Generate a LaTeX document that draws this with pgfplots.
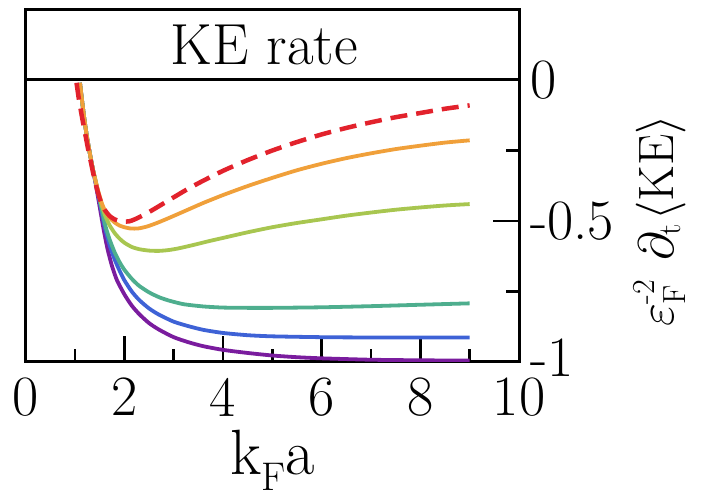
\documentclass[border=0pt]{standalone}
\usepackage{pgfplots}
\pgfplotsset{compat=1.18}
\definecolor{cred}{HTML}{E2222C}
\definecolor{corange}{HTML}{F0A03A}
\definecolor{cyg}{HTML}{A8C650}
\definecolor{cteal}{HTML}{4EAE8E}
\definecolor{cblue}{HTML}{3E62D6}
\definecolor{cpurple}{HTML}{7A1C9E}
\begin{document}
\begin{tikzpicture}
\path (-25.7pt,-138pt) rectangle (681.3pt,362pt);
\begin{axis}[
  name=ax, at={(0pt,0pt)}, anchor=south west,
  scale only axis, width=493.3pt, height=282pt,
  xmin=0, xmax=10, ymin=-1, ymax=0,
  axis line style={line width=3pt},
  every tick/.style={black, line width=2.5pt},
  xtick={0,2,4,6,8,10}, minor xtick={1,3,5,7,9},
  xticklabels={0,2,4,6,8,10},
  ytick={-1,-0.5,0}, minor ytick={-0.75,-0.25},
  yticklabels={\raisebox{9pt}{-1},-0.5,\raisebox{-5pt}{0}},
  xtick pos=left, ytick pos=right, yticklabel pos=right,
  tick align=inside,
  major tick length=26pt, minor tick length=13pt,
  xticklabel style={font=\rmfamily\fontsize{57}{57}\selectfont, inner sep=0pt, anchor=north, yshift=-16pt},
  yticklabel style={font=\rmfamily\fontsize{57}{57}\selectfont, inner sep=0pt, anchor=west, xshift=11pt},
  every axis plot/.append style={smooth, tension=0.4},
]
\addplot[cpurple, line width=3.8pt] coordinates {(1.1,-0.01)(1.14,-0.07)(1.19,-0.14)(1.24,-0.2)(1.3,-0.26)(1.36,-0.315)(1.42,-0.37)(1.5,-0.45)(1.58,-0.53)(1.66,-0.6)(1.75,-0.66)(1.85,-0.71)(2.0,-0.76)(2.15,-0.8)(2.3,-0.83)(2.5,-0.862)(2.7,-0.885)(3.0,-0.912)(3.3,-0.93)(3.6,-0.944)(4.0,-0.957)(4.5,-0.968)(5.0,-0.977)(5.5,-0.983)(6.0,-0.987)(7.0,-0.992)(8.0,-0.994)(9.0,-0.995)};
\addplot[cblue, line width=3.8pt] coordinates {(1.1,-0.01)(1.14,-0.07)(1.19,-0.14)(1.24,-0.2)(1.3,-0.26)(1.36,-0.315)(1.42,-0.365)(1.52,-0.45)(1.6,-0.52)(1.7,-0.585)(1.8,-0.635)(1.9,-0.675)(2.0,-0.71)(2.15,-0.75)(2.3,-0.78)(2.5,-0.81)(2.7,-0.832)(3.0,-0.857)(3.3,-0.873)(3.6,-0.886)(4.0,-0.897)(4.5,-0.905)(5.0,-0.909)(6.0,-0.912)(7.0,-0.913)(9.0,-0.913)};
\addplot[cteal, line width=3.8pt] coordinates {(1.1,-0.01)(1.14,-0.07)(1.19,-0.14)(1.24,-0.2)(1.3,-0.26)(1.36,-0.315)(1.42,-0.36)(1.48,-0.41)(1.55,-0.465)(1.62,-0.52)(1.7,-0.565)(1.8,-0.61)(1.9,-0.645)(2.0,-0.673)(2.15,-0.705)(2.3,-0.73)(2.5,-0.753)(2.7,-0.77)(2.9,-0.782)(3.2,-0.795)(3.6,-0.803)(4.0,-0.807)(4.5,-0.808)(5.0,-0.808)(6.0,-0.806)(7.0,-0.802)(8.0,-0.797)(9.0,-0.792)};
\addplot[cyg, line width=3.8pt] coordinates {(1.1,-0.01)(1.14,-0.07)(1.19,-0.14)(1.24,-0.2)(1.3,-0.26)(1.36,-0.315)(1.42,-0.36)(1.48,-0.405)(1.55,-0.45)(1.62,-0.485)(1.7,-0.515)(1.8,-0.542)(1.9,-0.562)(2.0,-0.577)(2.15,-0.592)(2.3,-0.6)(2.5,-0.605)(2.7,-0.606)(2.9,-0.603)(3.1,-0.597)(3.4,-0.585)(3.7,-0.572)(4.0,-0.56)(4.5,-0.54)(5.0,-0.522)(5.5,-0.507)(6.0,-0.494)(6.5,-0.481)(7.0,-0.47)(7.5,-0.46)(8.0,-0.452)(8.5,-0.445)(9.0,-0.44)};
\addplot[corange, line width=3.8pt] coordinates {(1.1,-0.01)(1.14,-0.07)(1.19,-0.14)(1.24,-0.2)(1.3,-0.26)(1.36,-0.315)(1.42,-0.36)(1.48,-0.4)(1.55,-0.44)(1.62,-0.468)(1.7,-0.488)(1.8,-0.505)(1.9,-0.516)(2.0,-0.522)(2.1,-0.526)(2.2,-0.527)(2.3,-0.526)(2.45,-0.52)(2.6,-0.511)(2.8,-0.497)(3.0,-0.482)(3.3,-0.459)(3.6,-0.436)(4.0,-0.408)(4.5,-0.376)(5.0,-0.347)(5.5,-0.32)(6.0,-0.297)(6.5,-0.277)(7.0,-0.26)(7.5,-0.245)(8.0,-0.233)(8.5,-0.222)(9.0,-0.214)};
\addplot[cred, line width=4.5pt, dash pattern=on 17pt off 9pt] coordinates {(1.03,-0.01)(1.08,-0.07)(1.14,-0.13)(1.2,-0.185)(1.26,-0.24)(1.32,-0.29)(1.38,-0.34)(1.45,-0.39)(1.52,-0.43)(1.6,-0.46)(1.7,-0.482)(1.8,-0.494)(1.9,-0.5)(2.0,-0.502)(2.1,-0.501)(2.2,-0.495)(2.4,-0.478)(2.6,-0.458)(2.8,-0.437)(3.0,-0.416)(3.3,-0.385)(3.6,-0.357)(4.0,-0.322)(4.5,-0.284)(5.0,-0.25)(5.5,-0.22)(6.0,-0.193)(6.5,-0.17)(7.0,-0.15)(7.5,-0.132)(8.0,-0.117)(8.5,-0.102)(9.0,-0.09)};
\end{axis}
\draw[line width=3pt] (ax.north west) rectangle ([yshift=70.5pt]ax.north east);
\node[anchor=base, inner sep=0pt, font=\rmfamily\fontsize{58}{58}\selectfont] at ([xshift=-8pt,yshift=15pt]ax.north) {KE rate};
\node[anchor=base, inner sep=0pt, font=\rmfamily\fontsize{64}{64}\selectfont] at ([yshift=-113pt]ax.south) {k\raisebox{-16pt}{\fontsize{40}{40}\selectfont F}a};
\node[rotate=90, scale=2, anchor=base, inner sep=0pt, font=\rmfamily\fontsize{24.88}{25}\selectfont] at ([xshift=154pt]ax.east) {$\varepsilon^{\mbox{\fontsize{16}{16}\selectfont -2}}_{\mbox{\fontsize{16}{16}\selectfont F}}$\hspace{9pt}$\partial_{\mbox{\fontsize{16}{16}\selectfont t}}$\hspace{1pt}$\langle$KE$\rangle$};
\end{tikzpicture}
\end{document}
